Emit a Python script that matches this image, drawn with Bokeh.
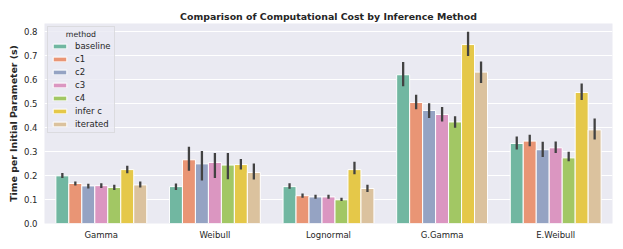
from bokeh.plotting import figure
from bokeh.models import ColumnDataSource, FactorRange, Range1d, FixedTicker, Legend, LegendItem
from bokeh.transform import dodge
from bokeh.embed import file_html
from bokeh.resources import INLINE

distributions = ["Gamma", "Weibull", "Lognormal", "G.Gamma", "E.Weibull"]
methods = ["baseline", "c1", "c2", "c3", "c4", "infer c", "iterated"]

mean_baseline = [0.199, 0.154, 0.154, 0.621, 0.334]
mean_c1 = [0.167, 0.266, 0.116, 0.505, 0.344]
mean_c2 = [0.157, 0.249, 0.111, 0.472, 0.308]
mean_c3 = [0.158, 0.255, 0.111, 0.455, 0.316]
mean_c4 = [0.150, 0.244, 0.099, 0.424, 0.274]
mean_inferc = [0.225, 0.246, 0.225, 0.747, 0.547]
mean_iterated = [0.161, 0.213, 0.146, 0.632, 0.391]

lo_baseline = [0.190, 0.140, 0.145, 0.573, 0.309]
hi_baseline = [0.211, 0.167, 0.168, 0.674, 0.363]
lo_c1 = [0.159, 0.220, 0.107, 0.477, 0.323]
hi_c1 = [0.175, 0.320, 0.125, 0.538, 0.371]
lo_c2 = [0.146, 0.180, 0.103, 0.440, 0.278]
hi_c2 = [0.166, 0.303, 0.120, 0.502, 0.341]
lo_c3 = [0.148, 0.190, 0.103, 0.426, 0.294]
hi_c3 = [0.168, 0.294, 0.120, 0.486, 0.342]
lo_c4 = [0.140, 0.185, 0.094, 0.400, 0.260]
hi_c4 = [0.162, 0.294, 0.107, 0.448, 0.300]
lo_inferc = [0.210, 0.225, 0.206, 0.699, 0.516]
hi_inferc = [0.241, 0.269, 0.258, 0.801, 0.584]
lo_iterated = [0.150, 0.184, 0.132, 0.587, 0.351]
hi_iterated = [0.175, 0.250, 0.162, 0.676, 0.438]

means = [mean_baseline, mean_c1, mean_c2, mean_c3, mean_c4, mean_inferc, mean_iterated]
lows = [lo_baseline, lo_c1, lo_c2, lo_c3, lo_c4, lo_inferc, lo_iterated]
highs = [hi_baseline, hi_c1, hi_c2, hi_c3, hi_c4, hi_inferc, hi_iterated]

colors = ["#71b7a1", "#e99575", "#95a3c3", "#db96c1", "#a2c764", "#e5c849", "#dbc29e"]

yticks = [0.0, 0.1, 0.2, 0.3, 0.4, 0.5, 0.6, 0.7, 0.8]

p = figure(x_range=FactorRange(*distributions), y_range=Range1d(0, 0.835),
           width=623, height=249, output_backend="svg", toolbar_location=None,
           min_border_left=44, min_border_right=11, min_border_bottom=26, min_border_top=23)
p.background_fill_color = "#eaeaf2"
p.border_fill_color = "white"
p.outline_line_color = None

p.title.text = "Comparison of Computational Cost by Inference Method"
p.title.text_font = "DejaVu Sans"
p.title.text_font_size = "9.4px"
p.title.text_font_style = "bold"
p.title.text_color = "#262626"
p.title.align = "center"
p.title.standoff = 4

n = len(methods)
bw = 0.8 / n
items = []
for j, m in enumerate(methods):
    src = ColumnDataSource(dict(dist=distributions, mean=means[j], lo=lows[j], hi=highs[j]))
    off = (j - (n - 1) / 2) * bw
    r = p.vbar(x=dodge("dist", off, range=p.x_range), top="mean", bottom=0, width=bw,
               source=src, fill_color=colors[j], line_color="white", line_width=1)
    p.segment(x0=dodge("dist", off, range=p.x_range), y0="lo",
              x1=dodge("dist", off, range=p.x_range), y1="hi",
              source=src, line_color="#424242", line_width=2.3)
    items.append(LegendItem(label=m, renderers=[r]))

legend = Legend(items=items, location="top_left", title="\u00a0" * 6 + "method",
                label_text_font="DejaVu Sans", label_text_font_size="8.5px", label_text_color="#262626",
                title_text_font="DejaVu Sans", title_text_font_size="7.8px", title_text_color="#262626",
                title_text_font_style="normal", title_standoff=2,
                glyph_width=17, glyph_height=6, label_height=10, label_standoff=7, spacing=3,
                padding=3, margin=3, background_fill_color="#eaeaf2", background_fill_alpha=0.8,
                border_line_color="#cccccc", border_line_width=1)
p.add_layout(legend)

p.xgrid.grid_line_color = None
p.ygrid.grid_line_color = "white"
p.ygrid.grid_line_width = 1
p.yaxis.ticker = FixedTicker(ticks=yticks)
p.yaxis.formatter.use_scientific = False
p.yaxis.major_label_overrides = {t: f"{t:.1f}" for t in yticks}

for ax in (p.xaxis, p.yaxis):
    ax.axis_line_color = None
    ax.major_tick_line_color = None
    ax.minor_tick_line_color = None
    ax.major_tick_out = 0
    ax.major_tick_in = 0
    ax.minor_tick_out = 0
    ax.minor_tick_in = 0
    ax.major_label_text_font = "DejaVu Sans"
    ax.major_label_text_font_size = "8.5px"
    ax.major_label_text_color = "#262626"
p.xaxis.major_label_standoff = 6
p.yaxis.major_label_standoff = 7
p.yaxis.axis_label = "Time per Initial Parameter (s)"
p.yaxis.axis_label_text_font = "DejaVu Sans"
p.yaxis.axis_label_text_font_size = "9.4px"
p.yaxis.axis_label_text_font_style = "bold"
p.yaxis.axis_label_text_color = "#262626"
p.yaxis.axis_label_standoff = 2

open("out.html", "w").write(file_html(p, INLINE))
